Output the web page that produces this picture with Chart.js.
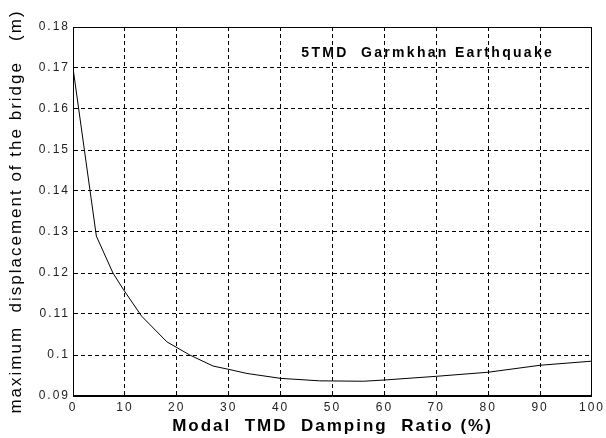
<!DOCTYPE html>
<html>
<head>
<meta charset="utf-8">
<script src="https://cdn.jsdelivr.net/npm/chart.js@4/dist/chart.umd.min.js"></script>
<style>
  html, body { margin: 0; padding: 0; background: #fff; }
  #wrap { width: 606px; height: 438px; }
</style>
</head>
<body>
<div id="wrap"><canvas id="tmd-chart"></canvas></div>
<script>
// values
var dampingRatio = [0, 4.5, 7.7, 9.7, 13.2, 18.1, 22.5, 27, 30, 33.5, 40, 47.5, 56, 60, 70, 80, 90, 100];
var maxDisplacement = [0.170, 0.129, 0.120, 0.116, 0.1095, 0.1032, 0.1000, 0.0973, 0.0965, 0.0955, 0.0943, 0.0937, 0.0936, 0.0939, 0.0948, 0.0958, 0.0975, 0.0985];
var yTicks = [0.09, 0.1, 0.11, 0.12, 0.13, 0.14, 0.15, 0.16, 0.17, 0.18];
var xTicks = [0, 10, 20, 30, 40, 50, 60, 70, 80, 90, 100];
var note = '5TMD  Garmkhan Earthquake';

var points = dampingRatio.map(function(x, i) {
  return { x: x, y: maxDisplacement[i] };
});

var tickFont = { family: 'Liberation Sans, Arial, sans-serif', size: 12 };
var gridOpts = { color: '#000', lineWidth: 1, drawTicks: false };

// the old matlab export has wide letter spacing on all text
// (only while drawing, so the layout keeps its size)
var spacingPlugin = {
  id: 'spacing',
  beforeDraw: function(chart) { chart.ctx.letterSpacing = '2px'; }
};

// frame round the plot + the label inside it
var boxPlugin = {
  id: 'box',
  afterDraw: function(chart) {
    var ctx = chart.ctx;
    var a = chart.chartArea;
    ctx.save();
    ctx.strokeStyle = '#000';
    ctx.lineWidth = 1;
    ctx.setLineDash([]);
    ctx.strokeRect(a.left + 0.5, a.top + 0.5, a.right - a.left - 1, a.bottom - a.top - 1);
    var sx = chart.scales.x, sy = chart.scales.y;
    ctx.fillStyle = '#000';
    ctx.font = 'bold 14px Liberation Sans, Arial, sans-serif';
    ctx.letterSpacing = '2.3px';
    ctx.textBaseline = 'middle';
    ctx.fillText(note, sx.getPixelForValue(44), sy.getPixelForValue(0.1737));
    ctx.restore();
  }
};

var config = {
  type: 'line',
  data: {
    datasets: [
      {
        data: points,
        borderColor: '#000',
        borderWidth: 1,
        pointRadius: 0,
        tension: 0,
        fill: false
      }
    ]
  },
  options: {
    responsive: true,
    maintainAspectRatio: false,
    animation: false,
    layout: { padding: { top: 27, right: 14, left: 0, bottom: 0 } },
    plugins: {
      legend: { display: false },
      tooltip: { enabled: false }
    },
    scales: {
      x: {
        type: 'linear',
        min: 0,
        max: 100,
        afterBuildTicks: function(scale) {
          scale.ticks = xTicks.map(function(v) { return { value: v }; });
        },
        afterFit: function(scale) { scale.height = 42; },
        grid: gridOpts,
        border: { display: true, color: '#000', dash: [4, 3] },
        ticks: {
          font: tickFont,
          color: '#222',
          padding: 4,
          maxRotation: 0,
          autoSkip: false
        },
        title: {
          display: true,
          text: 'Modal  TMD  Damping  Ratio (%)',
          color: '#000',
          font: { family: 'Liberation Sans, Arial, sans-serif', size: 17, weight: 'bold' },
          padding: { top: 0, bottom: 1 }
        }
      },
      y: {
        type: 'linear',
        min: 0.09,
        max: 0.18,
        afterBuildTicks: function(scale) {
          scale.ticks = yTicks.map(function(v) { return { value: v }; });
        },
        afterFit: function(scale) { scale.width = 73; },
        grid: gridOpts,
        border: { display: true, color: '#000', dash: [4, 3] },
        ticks: {
          font: tickFont,
          color: '#222',
          padding: 3,
          autoSkip: false,
          callback: function(v) { return String(Math.round(v * 100) / 100); }
        },
        title: {
          display: true,
          text: 'maximum  displacement of the bridge   (m)',
          color: '#000',
          font: { family: 'Liberation Sans, Arial, sans-serif', size: 17 },
          padding: { top: 6, bottom: 0 }
        }
      }
    }
  },
  plugins: [spacingPlugin, boxPlugin]
};

var ctx = document.getElementById('tmd-chart').getContext('2d');
var tmdChart = new Chart(ctx, config);
</script>
</body>
</html>
